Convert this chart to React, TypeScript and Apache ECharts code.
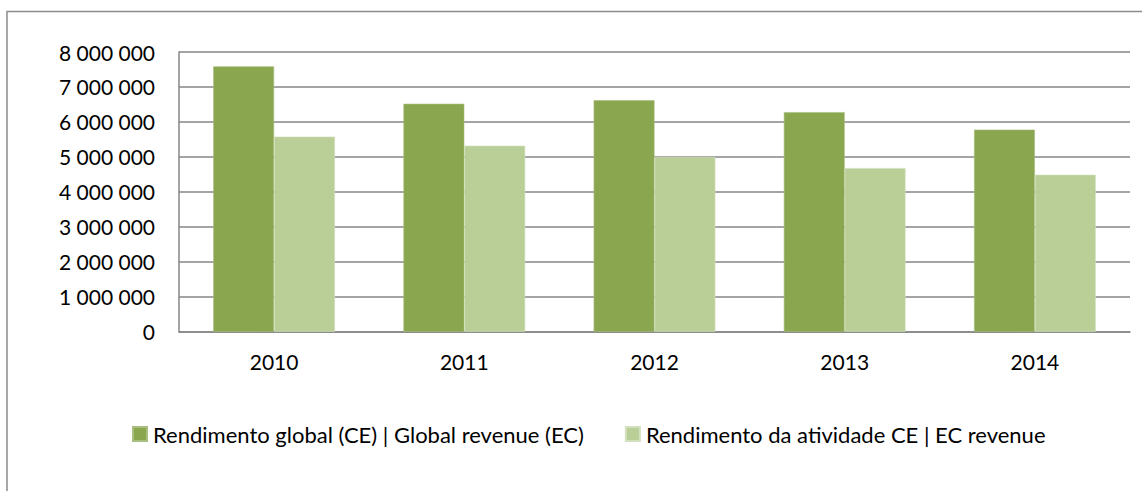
import React, { useEffect, useRef } from "react";
import * as echarts from "echarts";

const categories = ["2010", "2011", "2012", "2013", "2014"];
const globalRevenue = [7590000, 6520000, 6620000, 6280000, 5780000];
const ecRevenue = [5580000, 5320000, 5000000, 4680000, 4490000];
const seriesNames = [
  "Rendimento global (CE) | Global revenue (EC)",
  "Rendimento da atividade CE | EC revenue",
];

const FONT = "Lato, 'Liberation Sans', sans-serif";

function fmt(v: number): string {
  return String(v).replace(/\B(?=(\d{3})+(?!\d))/g, " ");
}

export default function App() {
  const ref = useRef<HTMLDivElement>(null);
  useEffect(() => {
    if (!ref.current) return;
    const chart = echarts.init(ref.current, null, { renderer: "svg" });
    chart.setOption({
      animation: false,
      backgroundColor: "#ffffff",
      textStyle: { fontFamily: FONT },
      graphic: [
        {
          type: "rect",
          shape: { x: 7, y: 11.5, width: 1160, height: 520 },
          style: { fill: "none", stroke: "#8c8c8c", lineWidth: 1.5 },
          silent: true,
        },
      ],
      grid: { left: 179, right: 12, top: 52, bottom: 159.3 },
      legend: {
        left: 132,
        top: 423,
        padding: 0,
        itemWidth: 14,
        itemHeight: 14,
        itemGap: 41,
        icon: "rect",
        textStyle: { fontFamily: FONT, fontSize: 22, color: "#000000", padding: [0, 0, 0, 1] },
        data: seriesNames,
      },
      xAxis: {
        type: "category",
        data: categories,
        axisLine: { show: true, lineStyle: { color: "#868686", width: 1.5 } },
        axisTick: { show: false },
        axisLabel: { fontFamily: FONT, fontSize: 21, color: "#000000", margin: 19 },
      },
      yAxis: {
        type: "value",
        min: 0,
        max: 8000000,
        interval: 1000000,
        axisLine: { show: true, lineStyle: { color: "#868686", width: 1.5 } },
        axisTick: { show: false },
        splitLine: { show: true, lineStyle: { color: "#868686", width: 1.5 } },
        axisLabel: {
          fontFamily: FONT,
          fontSize: 21,
          color: "#000000",
          margin: 24,
          formatter: (v: number) => fmt(v),
        },
      },
      series: [
        {
          name: seriesNames[0],
          type: "bar",
          data: globalRevenue,
          barGap: "0%",
          barCategoryGap: "36%",
          itemStyle: { color: "#8aa64f", borderColor: "#a9bf80", borderWidth: 0.6 },
        },
        {
          name: seriesNames[1],
          type: "bar",
          data: ecRevenue,
          barGap: "0%",
          barCategoryGap: "36%",
          itemStyle: { color: "#bacf97", borderColor: "#d3e0bd", borderWidth: 0.6 },
        },
      ],
    });
    return () => chart.dispose();
  }, []);
  return (
    <div
      ref={ref}
      style={{ position: "fixed", left: 0, top: 0, width: 1142, height: 491 }}
    />
  );
}
